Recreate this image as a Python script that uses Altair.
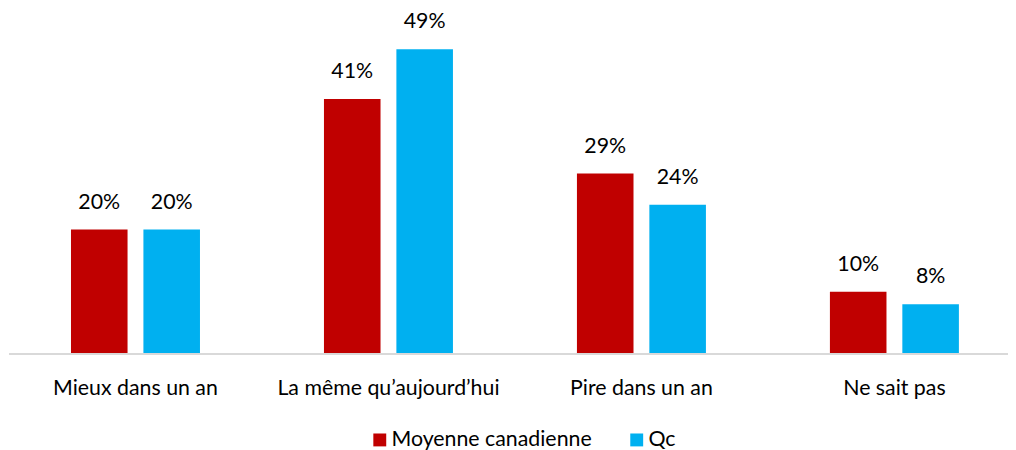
import altair as alt
import pandas as pd

categories = ["Mieux dans un an", "La même qu\u2019aujourd\u2019hui", "Pire dans un an", "Ne sait pas"]
series = ["Moyenne canadienne", "Qc"]
canada = [20, 41, 29, 10]
qc = [20, 49, 24, 8]
colors = ["#C00000", "#00B0F0"]

rows = []
for i, c in enumerate(categories):
    rows.append({"cat": c, "serie": series[0], "val": canada[i], "lab": f"{canada[i]}%"})
    rows.append({"cat": c, "serie": series[1], "val": qc[i], "lab": f"{qc[i]}%"})
df = pd.DataFrame(rows)

FONT = "Lato"
FS = 21.5

x = alt.X("cat:N", sort=categories, title=None,
          scale=alt.Scale(range=[0, 1020], paddingInner=0, paddingOuter=0),
          axis=alt.Axis(labelAngle=0, ticks=False, domain=False,
                        labelFont=FONT, labelFontSize=FS, labelColor="#000000",
                        labelPadding=35, labelBaseline="middle", labelLimit=400))
xo = alt.XOffset("serie:N", sort=series,
                 scale=alt.Scale(paddingInner=0.219, paddingOuter=0.856))
y = alt.Y("val:Q", scale=alt.Scale(domain=[0, 50]), axis=None)

bars = alt.Chart(df).mark_bar().encode(
    x=x, xOffset=xo, y=y,
    color=alt.Color("serie:N", sort=series,
                    scale=alt.Scale(domain=series, range=colors),
                    legend=alt.Legend(orient="none", legendX=363, legendY=389,
                                      direction="horizontal", title=None,
                                      symbolType="square", symbolSize=169, symbolStrokeWidth=0,
                                      labelFont=FONT, labelFontSize=FS, labelColor="#000000",
                                      labelOffset=1, columnPadding=34, labelLimit=400)),
)

labels = alt.Chart(df).mark_text(font=FONT, fontSize=FS, color="#000000",
                                 baseline="alphabetic", dy=-21).encode(
    x=x, xOffset=xo, y=y, text="lab:N")

baseline = alt.Chart(df).mark_rule(color="#D9D9D9", strokeWidth=1.5).encode(
    y=alt.datum(0), x=alt.value(0), x2=alt.value("width"))

chart = (bars + labels + baseline).properties(
    width=1007, height=313.5,
    autosize=alt.AutoSizeParams(type="none"),
    padding={"left": 1, "top": 33.5, "right": 0, "bottom": 95},
).configure_view(stroke=None).configure_axis(grid=False)

chart.save("out.html", embed_options={"renderer": "svg", "actions": False})
